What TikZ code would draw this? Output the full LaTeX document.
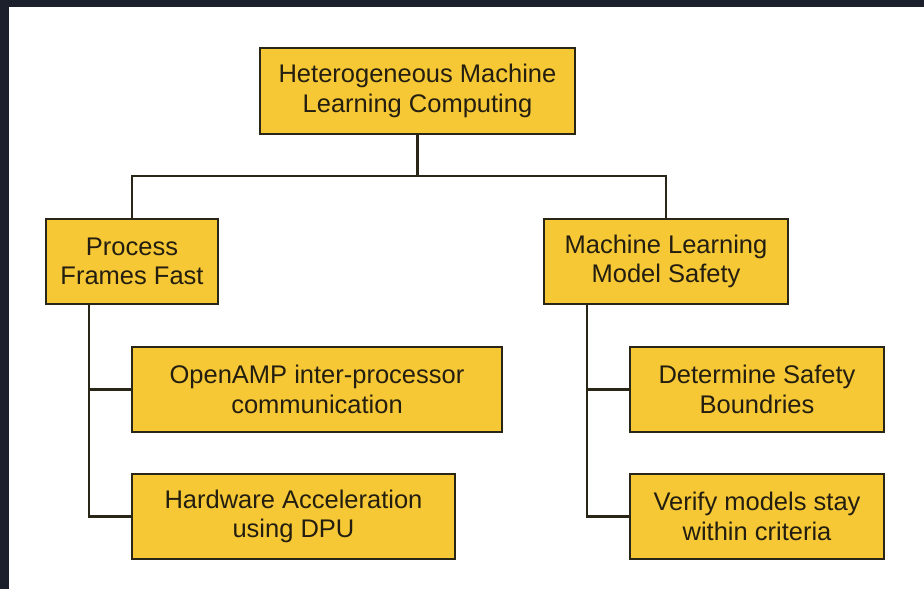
\documentclass[tikz,border=0pt]{standalone}
\usepackage{fontspec}
\setmainfont{Liberation Sans}
\definecolor{boxfill}{HTML}{F6C836}
\definecolor{boxline}{HTML}{2A2617}
\definecolor{frame}{HTML}{1C202C}
\definecolor{txt}{HTML}{231E10}
\begin{document}
\begin{tikzpicture}[x=1pt,y=-1pt,
  box/.style={draw=boxline,line width=2.2pt,fill=boxfill,inner sep=0pt,
    align=center,text=txt,font=\fontsize{25.5}{29.5}\selectfont},
  link/.style={draw=boxline,line width=2.4pt}]
\useasboundingbox (0,0) rectangle (924,589);
\fill[frame] (0,0) rectangle (924,7);
\fill[frame] (0,0) rectangle (9,589);
\coordinate (j) at (417.5,176);
\coordinate (pl) at (89,304);
\coordinate (mr) at (587,304);
\node[box,minimum width=315pt,minimum height=86pt] (top) at (417.5,91) {Heterogeneous Machine\\Learning Computing};
\node[box,minimum width=172pt,minimum height=85pt] (proc) at (132,261.5) {Process\\Frames Fast};
\node[box,minimum width=244pt,minimum height=85pt] (ml) at (666,261.5) {Machine Learning\\Model Safety};
\node[box,minimum width=370pt,minimum height=85pt] (oa) at (317,389.5) {OpenAMP inter-processor\\communication};
\node[box,minimum width=323pt,minimum height=85pt] (hw) at (293.5,516.5) {Hardware Acceleration\\using DPU};
\node[box,minimum width=254pt,minimum height=85pt] (ds) at (757,389.5) {Determine Safety\\Boundries};
\node[box,minimum width=254pt,minimum height=85pt] (vm) at (757,516.5) {Verify models stay\\within criteria};
\draw[link] (top.south) -- (j);
\draw[link] (proc.north) |- (j) -| (ml.north);
\draw[link] (pl) |- (oa.west);
\draw[link] (pl) |- (hw.west);
\draw[link] (mr) |- (ds.west);
\draw[link] (mr) |- (vm.west);
\end{tikzpicture}
\end{document}
